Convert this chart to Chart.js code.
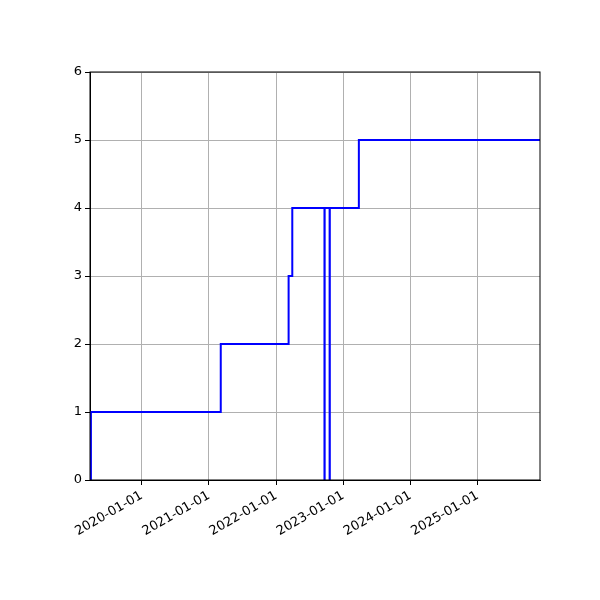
<!DOCTYPE html>
<html>
<head>
<meta charset="utf-8">
<script src="https://cdn.jsdelivr.net/npm/chart.js@4"></script>
<style>
  html, body { margin: 0; padding: 0; background: #fff; }
  #wrap { width: 600px; height: 600px; }
</style>
</head>
<body>
<div id="wrap"><canvas id="stepChart"></canvas></div>
<script>
// Dates where the value changes, and the value held from that date on.
const changeDates = [
  '2019-03-26', '2019-03-31', '2021-03-06', '2022-03-10', '2022-03-30',
  '2022-09-21', '2022-09-22', '2022-10-19', '2022-10-20', '2023-03-27', '2025-12-06',
];
const levels = [0, 1, 2, 3, 4, 0, 4, 0, 4, 5, 5];
const yearTicks = ['2020-01-01', '2021-01-01', '2022-01-01', '2023-01-01', '2024-01-01', '2025-01-01'];

const toMs = (s) => Date.parse(s + 'T00:00:00Z');
const points = changeDates.map((d, i) => ({ x: toMs(d), y: levels[i] }));

// Draw the top and right spines too, like a plain matplotlib frame.
const frame = {
  id: 'frame',
  afterDraw(chart) {
    const { ctx, chartArea: a } = chart;
    ctx.save();
    ctx.strokeStyle = '#000';
    ctx.lineWidth = 1;
    ctx.strokeRect(a.left, a.top, a.right - a.left, a.bottom - a.top);
    ctx.restore();
  },
};

new Chart(document.getElementById('stepChart'), {
  type: 'line',
  data: {
    datasets: [
      {
        data: points,
        borderColor: 'blue',
        borderWidth: 2,
        stepped: true,
        pointRadius: 0,
        fill: false,
      },
    ],
  },
  options: {
    responsive: true,
    maintainAspectRatio: false,
    animation: false,
    layout: { padding: { top: 72, right: 60, left: 0, bottom: 0 } },
    plugins: { legend: { display: false }, tooltip: { enabled: false } },
    scales: {
      x: {
        type: 'linear',
        min: toMs(changeDates[0]),
        max: toMs(changeDates[changeDates.length - 1]),
        afterBuildTicks: (scale) => {
          scale.ticks = yearTicks.map((d) => ({ value: toMs(d) }));
        },
        afterFit: (scale) => { scale.height = 120; },
        grid: { color: '#b0b0b0', tickColor: '#000', tickLength: 5 },
        border: { color: '#000' },
        ticks: {
          color: '#000',
          font: { family: 'DejaVu Sans', size: 13 },
          minRotation: 30,
          maxRotation: 30,
          autoSkip: false,
          callback: (v) => new Date(v).toISOString().slice(0, 10),
        },
      },
      y: {
        min: 0,
        max: 6,
        afterFit: (scale) => { scale.width = 90; },
        grid: { color: '#b0b0b0', tickColor: '#000', tickLength: 5 },
        border: { color: '#000' },
        ticks: {
          stepSize: 1,
          color: '#000',
          font: { family: 'DejaVu Sans', size: 13 },
        },
      },
    },
  },
  plugins: [frame],
});
</script>
</body>
</html>
